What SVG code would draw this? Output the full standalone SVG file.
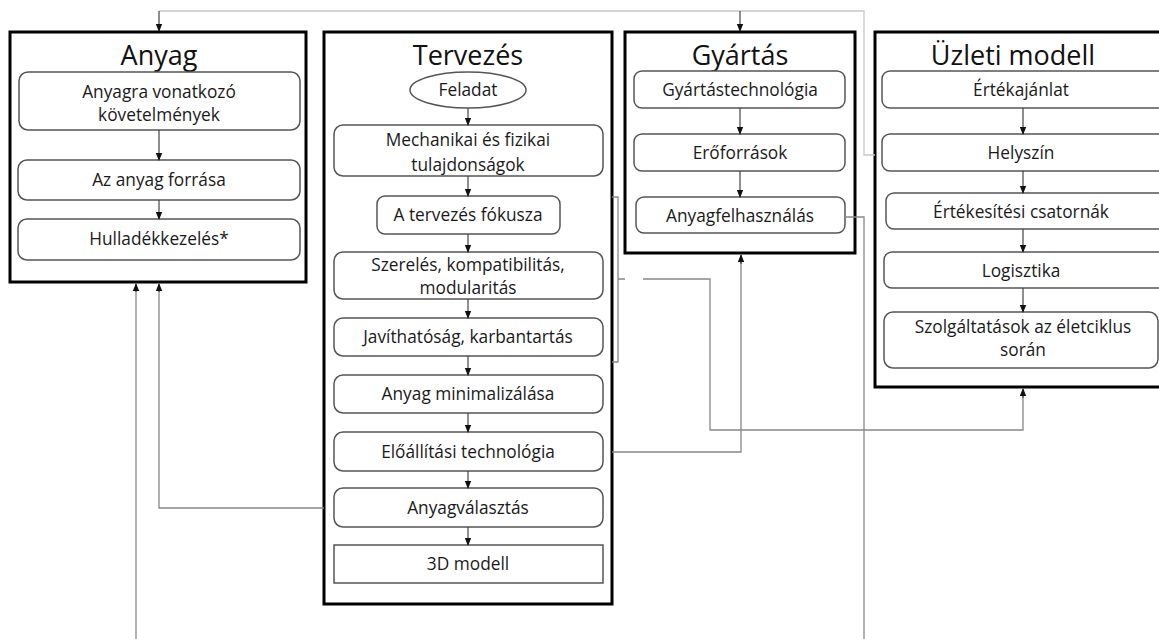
<svg xmlns="http://www.w3.org/2000/svg" width="1159" height="639" viewBox="0 0 1159 639">
<defs>
<style>
.outer{fill:#fff;stroke:#000;stroke-width:3}
.box{fill:#fff;stroke:#555;stroke-width:1.5}
.title{font-family:"Open Sans",Lato,"Liberation Sans",sans-serif;font-size:27px;fill:#111;text-anchor:middle}
.t{font-family:"Open Sans",Lato,"Liberation Sans",sans-serif;font-size:17.3px;fill:#1a1a1a;text-anchor:middle}
.c{fill:none;stroke:#888;stroke-width:1.3}
.cl{fill:none;stroke:#c8c8c8;stroke-width:1.3}
.a{fill:none;stroke:#444;stroke-width:1.2;marker-end:url(#ah)}
</style>
<marker id="ah" viewBox="0 0 8 8" refX="7" refY="4" markerWidth="8" markerHeight="8" markerUnits="userSpaceOnUse" orient="auto">
<path d="M0,0.8 L8,4 L0,7.2 Z" fill="#111"/>
</marker>
</defs>

<g id="anyag">
<rect class="outer" x="10" y="32" width="296" height="250"/>
<text class="title" x="159" y="65">Anyag</text>
<rect class="box" x="19" y="72" width="281" height="58" rx="9"/>
<text class="t" x="159" y="98">Anyagra vonatkozó</text>
<text class="t" x="159" y="121">követelmények</text>
<rect class="box" x="18" y="160" width="282" height="40" rx="9"/>
<text class="t" x="159" y="186">Az anyag forrása</text>
<rect class="box" x="18" y="219" width="282" height="41" rx="9"/>
<text class="t" x="159" y="245">Hulladékkezelés*</text>
<path class="a" d="M159,130 V160"/>
<path class="a" d="M159,200 V219"/>
</g>

<g id="tervezes">
<rect class="outer" x="324" y="32" width="288" height="572"/>
<text class="title" x="468" y="65">Tervezés</text>
<ellipse class="box" cx="468" cy="90" rx="58" ry="18"/>
<text class="t" x="468" y="96">Feladat</text>
<rect class="box" x="334" y="125" width="269" height="51" rx="9"/>
<text class="t" x="468" y="146">Mechanikai és fizikai</text>
<text class="t" x="468" y="171">tulajdonságok</text>
<rect class="box" x="377" y="196" width="183" height="38" rx="8"/>
<text class="t" x="468" y="221">A tervezés fókusza</text>
<rect class="box" x="334" y="252" width="269" height="47" rx="9"/>
<text class="t" x="468" y="271">Szerelés, kompatibilitás,</text>
<text class="t" x="468" y="294">modularitás</text>
<rect class="box" x="334" y="318" width="269" height="38" rx="9"/>
<text class="t" x="468" y="343">Javíthatóság, karbantartás</text>
<rect class="box" x="334" y="375" width="269" height="38" rx="9"/>
<text class="t" x="468" y="400">Anyag minimalizálása</text>
<rect class="box" x="334" y="432" width="269" height="39" rx="9"/>
<text class="t" x="468" y="458">Előállítási technológia</text>
<rect class="box" x="334" y="488" width="269" height="39" rx="9"/>
<text class="t" x="468" y="514">Anyagválasztás</text>
<rect class="box" x="334" y="545" width="269" height="38"/>
<text class="t" x="468" y="570">3D modell</text>
<path class="a" d="M468,108 V125"/>
<path class="a" d="M468,176 V196"/>
<path class="a" d="M468,234 V252"/>
<path class="a" d="M468,299 V318"/>
<path class="a" d="M468,356 V375"/>
<path class="a" d="M468,413 V432"/>
<path class="a" d="M468,471 V488"/>
<path class="a" d="M468,527 V545"/>
</g>

<g id="gyartas">
<rect class="outer" x="625" y="32" width="230" height="221"/>
<text class="title" x="740" y="65">Gyártás</text>
<rect class="box" x="634" y="71" width="211" height="37" rx="8"/>
<text class="t" x="740" y="96">Gyártástechnológia</text>
<rect class="box" x="634" y="134" width="211" height="37" rx="8"/>
<text class="t" x="740" y="159">Erőforrások</text>
<rect class="box" x="636" y="197" width="209" height="36" rx="8"/>
<text class="t" x="740" y="222">Anyagfelhasználás</text>
<path class="a" d="M740,108 V134"/>
<path class="a" d="M740,171 V197"/>
</g>

<g id="uzleti">
<rect class="outer" x="875" y="32" width="300" height="355"/>
<text class="title" x="1013" y="65">Üzleti modell</text>
<rect class="box" x="882" y="71" width="290" height="37" rx="8"/>
<text class="t" x="1021" y="96">Értékajánlat</text>
<rect class="box" x="882" y="134" width="290" height="37" rx="8"/>
<text class="t" x="1021" y="159">Helyszín</text>
<rect class="box" x="886" y="193" width="286" height="36" rx="8"/>
<text class="t" x="1021" y="218">Értékesítési csatornák</text>
<rect class="box" x="884" y="252" width="288" height="36" rx="8"/>
<text class="t" x="1021" y="277">Logisztika</text>
<rect class="box" x="884" y="312" width="274" height="56" rx="9"/>
<text class="t" x="1023" y="333">Szolgáltatások az életciklus</text>
<text class="t" x="1023" y="356">során</text>
<path class="a" d="M1023,108 V134"/>
<path class="a" d="M1023,171 V193"/>
<path class="a" d="M1023,229 V252"/>
<path class="a" d="M1023,288 V312"/>
</g>

<g id="connectors">
<path class="cl" d="M159,11 H864 V155 H875"/>
<path class="a" d="M159,11 V31"/>
<path class="a" d="M740,11 V31"/>
<path class="c" d="M845,217 H864 V639"/>
<path class="c" d="M136,639 V290"/>
<path class="a" d="M136,292 V284"/>
<path class="c" d="M324,508 H159 V290"/>
<path class="a" d="M159,292 V284"/>
<path class="c" d="M612,452 H741 V262"/>
<path class="a" d="M741,264 V255"/>
<path class="c" d="M612,197 H618 V362 H612 M618,279 H625 M643,279 H710 V430 H1023 V396"/>
<path class="a" d="M1023,398 V389"/>
</g>
</svg>
